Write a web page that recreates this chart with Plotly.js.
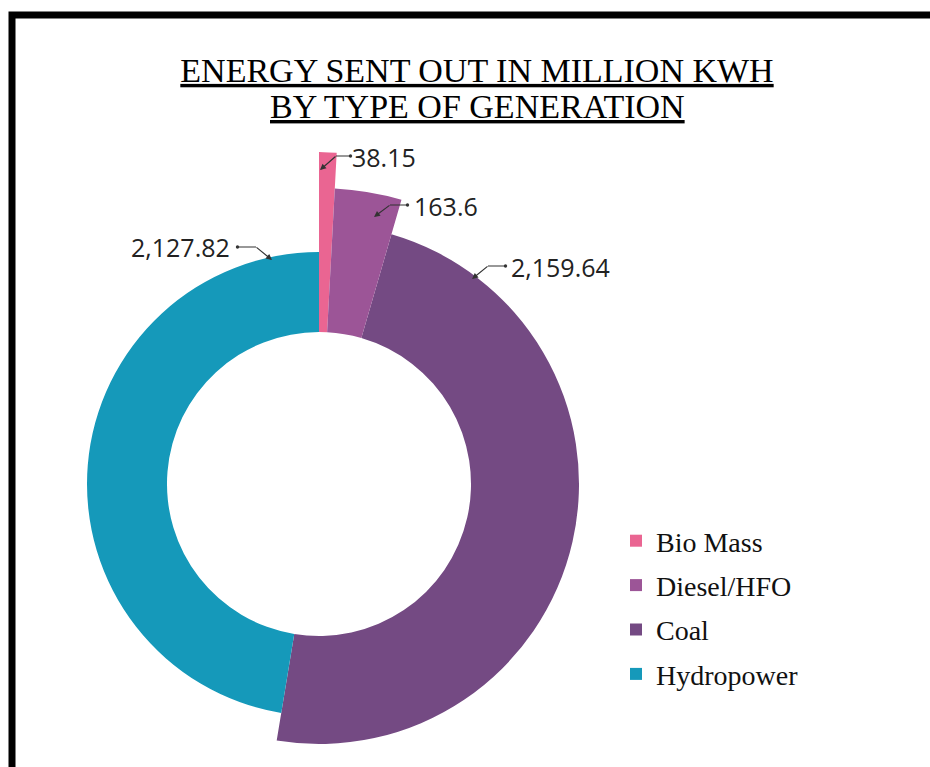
<!DOCTYPE html>
<html><head><meta charset="utf-8">
<script src="https://cdn.plot.ly/plotly-3.0.1.min.js"></script>
<style>html,body{margin:0;padding:0;background:#fff;overflow:hidden}#chart{width:930px;height:767px}</style>
</head><body><div id="chart"></div>
<script>
// ---- data ----
const categories = ['Bio Mass', 'Diesel/HFO', 'Coal', 'Hydropower'];
const energySent = [38.15, 163.6, 2159.64, 2127.82];
const valueLabels = ['38.15', '163.6', '2,159.64', '2,127.82'];
const titleLines = ['ENERGY SENT OUT IN MILLION KWH', 'BY TYPE OF GENERATION'];

// ---- style ----
const colors = ['#EA6592', '#9C5597', '#744A83', '#1599BA'];
const W = 930, H = 767;
const CX = 319, CY = 484;                   // donut centre (px)
const RP = 280;                             // radius of the full-circle polar subplot (px)
const RQ = 332;                             // radius of the quarter polar subplot (px)
const holeR = 152;                          // inner radius (px)
const outerR = [332, 296, 260, 232];        // ring outer radius per slice (px)
const subplotOf = ['polar2', 'polar2', 'polar', 'polar']; // long slices live in the quarter subplot
// callout geometry (px): text anchor, small circle, elbow, arrow tip
const labelAnchor = [[350,157,'left'],[412,206,'left'],[509,267,'left'],[232,247,'right']];
const calloutDot  = [[351,156],[408,205],[506,266],[237,247]];
const calloutKnee = [[336,156],[390,205],[488,266],[256,247]];
const calloutTip  = [[320,170],[374,217],[472,279],[272,260]];

const total = energySent.reduce((a, b) => a + b, 0);
let cum = 0;
const traces = categories.map((c, i) => {
  const w = energySent[i] / total * 360;
  const mid = cum + w / 2; cum += w;
  return {
    type: 'barpolar', name: c, legendgroup: c, subplot: subplotOf[i],
    r: [outerR[i] - holeR], base: [holeR], theta: [mid], width: [w],
    marker: {color: colors[i], line: {width: 0}},
    hovertemplate: c + ': ' + valueLabels[i] + '<extra></extra>'
  };
});

const px = (p) => ({x: p[0] / W, y: 1 - p[1] / H});
const annotations = [];
valueLabels.forEach((t, i) => {
  const a = labelAnchor[i];
  annotations.push(Object.assign(px(a), {
    xref: 'paper', yref: 'paper', xanchor: a[2], yanchor: 'middle',
    text: t, showarrow: false,
    font: {family: 'Open Sans', size: 25, color: '#222'}
  }));
  // dot -> elbow
  annotations.push(Object.assign(px(calloutKnee[i]), {
    xref: 'paper', yref: 'paper', axref: 'pixel', ayref: 'pixel',
    ax: calloutDot[i][0] - calloutKnee[i][0], ay: calloutDot[i][1] - calloutKnee[i][1],
    text: '', showarrow: true, arrowside: 'start', startarrowhead: 6, startarrowsize: 0.7,
    arrowwidth: 1.2, arrowcolor: '#333', standoff: 0, startstandoff: 0,
    borderpad: 0, font: {size: 1}
  }));
  // elbow -> tip
  annotations.push(Object.assign(px(calloutTip[i]), {
    xref: 'paper', yref: 'paper', axref: 'pixel', ayref: 'pixel',
    ax: calloutKnee[i][0] - calloutTip[i][0], ay: calloutKnee[i][1] - calloutTip[i][1],
    text: '', showarrow: true, arrowside: 'end', arrowhead: 2, arrowsize: 1,
    arrowwidth: 1.2, arrowcolor: '#333', standoff: 0,
    borderpad: 0, font: {size: 1}
  }));
});
annotations.push({
  xref: 'paper', yref: 'paper', x: 477 / W, y: 1 - 106 / H,
  xanchor: 'center', yanchor: 'middle', showarrow: false,
  text: '<u>' + titleLines[1] + '</u>',
  font: {family: 'Liberation Serif', size: 34, color: '#000'}
});

const hiddenAxes = {
  bgcolor: 'rgba(0,0,0,0)', bargap: 0, hole: 0,
  angularaxis: {visible: false, direction: 'clockwise', rotation: 90}
};

const layout = {
  width: W, height: H,
  margin: {l: 0, r: 0, t: 0, b: 0},
  paper_bgcolor: '#fff',
  title: {
    text: '<u>' + titleLines[0] + '</u>',
    font: {family: 'Liberation Serif', size: 34, color: '#000'},
    x: 477 / W, xanchor: 'center', xref: 'paper',
    y: 1 - 70 / H, yanchor: 'middle', yref: 'paper'
  },
  polar: Object.assign({}, hiddenAxes, {
    domain: {x: [(CX - RP) / W, (CX + RP) / W], y: [1 - (CY + RP) / H, 1 - (CY - RP) / H]},
    radialaxis: {visible: false, range: [0, RP]}
  }),
  polar2: Object.assign({}, hiddenAxes, {
    sector: [0, 90],
    domain: {x: [CX / W, (CX + RQ) / W], y: [1 - CY / H, 1 - (CY - RQ) / H]},
    radialaxis: {visible: false, range: [0, RQ]}
  }),
  showlegend: true,
  legend: {
    x: 616 / W, xanchor: 'left', y: 1 - 516 / H, yanchor: 'top',
    font: {family: 'Liberation Serif', size: 28, color: '#111'},
    tracegroupgap: 5, bgcolor: 'rgba(0,0,0,0)'
  },
  annotations: annotations,
  shapes: [{
    type: 'rect', xref: 'paper', yref: 'paper',
    x0: 12 / W, x1: 1.05, y0: -0.05, y1: 1 - 15 / H,
    line: {color: '#000', width: 7}, fillcolor: 'rgba(0,0,0,0)', layer: 'above'
  }]
};

Plotly.newPlot('chart', traces, layout, {displayModeBar: false, responsive: false});
</script>
</body></html>
